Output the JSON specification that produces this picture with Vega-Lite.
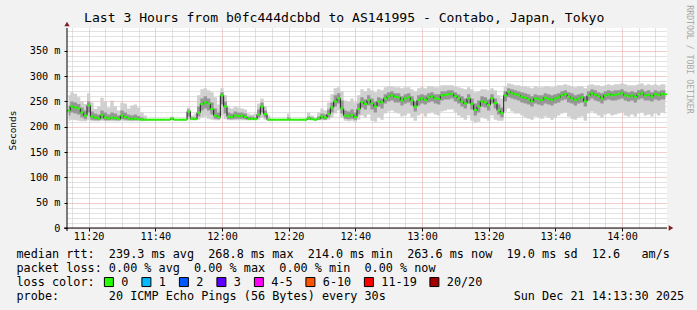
{
  "$schema": "https://vega.github.io/schema/vega-lite/v6.json",
  "width": 600,
  "height": 200,
  "autosize": {"type": "none"},
  "padding": {"left": 67, "top": 28, "right": 30, "bottom": 82},
  "background": "#f2f2f2",
  "config": {
    "font": "DejaVu Sans Mono",
    "view": {"fill": "#ffffff", "stroke": null}
  },
  "title": {
    "text": "Last 3 Hours from b0fc444dcbbd to AS141995 - Contabo, Japan, Tokyo",
    "font": "DejaVu Sans Mono",
    "fontSize": 13.1,
    "fontWeight": "normal",
    "color": "#000000",
    "anchor": "start",
    "frame": "group",
    "dx": 17,
    "offset": -30.5,
    "baseline": "alphabetic"
  },
  "data": {
    "values": [
      {"t":"2025-12-21T11:14:00Z","m":232,"a":212,"b":262,"c":222,"d":242},
      {"t":"2025-12-21T11:15:00Z","m":240,"a":214,"b":268,"c":228,"d":250},
      {"t":"2025-12-21T11:16:00Z","m":238,"a":213,"b":265,"c":226,"d":248},
      {"t":"2025-12-21T11:17:00Z","m":236,"a":212,"b":258,"c":224,"d":245},
      {"t":"2025-12-21T11:18:00Z","m":228,"a":211,"b":250,"c":218,"d":238},
      {"t":"2025-12-21T11:19:00Z","m":222,"a":211,"b":245,"c":215,"d":232},
      {"t":"2025-12-21T11:20:00Z","m":242,"a":213,"b":266,"c":228,"d":250},
      {"t":"2025-12-21T11:21:00Z","m":220,"a":211,"b":248,"c":214,"d":230},
      {"t":"2025-12-21T11:22:00Z","m":218,"a":211,"b":235,"c":213,"d":226},
      {"t":"2025-12-21T11:23:00Z","m":216,"a":211,"b":240,"c":213,"d":224},
      {"t":"2025-12-21T11:24:00Z","m":223,"a":212,"b":257,"c":215,"d":232},
      {"t":"2025-12-21T11:25:00Z","m":218,"a":211,"b":250,"c":213,"d":228},
      {"t":"2025-12-21T11:26:00Z","m":216,"a":211,"b":238,"c":213,"d":224},
      {"t":"2025-12-21T11:27:00Z","m":218,"a":211,"b":252,"c":214,"d":228},
      {"t":"2025-12-21T11:28:00Z","m":217,"a":211,"b":240,"c":213,"d":226},
      {"t":"2025-12-21T11:29:00Z","m":215,"a":211,"b":232,"c":213,"d":222},
      {"t":"2025-12-21T11:30:00Z","m":222,"a":212,"b":248,"c":215,"d":232},
      {"t":"2025-12-21T11:31:00Z","m":219,"a":211,"b":246,"c":214,"d":228},
      {"t":"2025-12-21T11:32:00Z","m":216,"a":211,"b":236,"c":213,"d":224},
      {"t":"2025-12-21T11:33:00Z","m":215,"a":211,"b":242,"c":213,"d":222},
      {"t":"2025-12-21T11:34:00Z","m":216,"a":211,"b":244,"c":213,"d":224},
      {"t":"2025-12-21T11:35:00Z","m":215,"a":211,"b":238,"c":213,"d":221},
      {"t":"2025-12-21T11:36:00Z","m":214,"a":211,"b":228,"c":213,"d":218},
      {"t":"2025-12-21T11:37:00Z","m":214,"a":212,"b":222,"c":213,"d":216},
      {"t":"2025-12-21T11:38:00Z","m":214,"a":213,"b":215,"c":213,"d":215},
      {"t":"2025-12-21T11:39:00Z","m":214,"a":213,"b":215,"c":213,"d":215},
      {"t":"2025-12-21T11:40:00Z","m":214,"a":213,"b":215,"c":213,"d":215},
      {"t":"2025-12-21T11:41:00Z","m":214,"a":213,"b":215,"c":213,"d":215},
      {"t":"2025-12-21T11:42:00Z","m":214,"a":213,"b":215,"c":213,"d":215},
      {"t":"2025-12-21T11:43:00Z","m":214,"a":213,"b":215,"c":213,"d":215},
      {"t":"2025-12-21T11:44:00Z","m":214,"a":213,"b":215,"c":213,"d":215},
      {"t":"2025-12-21T11:45:00Z","m":216,"a":213,"b":220,"c":214,"d":218},
      {"t":"2025-12-21T11:46:00Z","m":214,"a":213,"b":215,"c":213,"d":215},
      {"t":"2025-12-21T11:47:00Z","m":214,"a":213,"b":215,"c":213,"d":215},
      {"t":"2025-12-21T11:48:00Z","m":214,"a":213,"b":215,"c":213,"d":215},
      {"t":"2025-12-21T11:49:00Z","m":214,"a":213,"b":215,"c":213,"d":215},
      {"t":"2025-12-21T11:50:00Z","m":230,"a":214,"b":238,"c":220,"d":234},
      {"t":"2025-12-21T11:51:00Z","m":216,"a":213,"b":222,"c":214,"d":218},
      {"t":"2025-12-21T11:52:00Z","m":215,"a":213,"b":226,"c":214,"d":218},
      {"t":"2025-12-21T11:53:00Z","m":228,"a":214,"b":262,"c":220,"d":240},
      {"t":"2025-12-21T11:54:00Z","m":245,"a":218,"b":274,"c":232,"d":256},
      {"t":"2025-12-21T11:55:00Z","m":248,"a":220,"b":276,"c":236,"d":260},
      {"t":"2025-12-21T11:56:00Z","m":245,"a":216,"b":272,"c":232,"d":256},
      {"t":"2025-12-21T11:57:00Z","m":235,"a":214,"b":268,"c":224,"d":248},
      {"t":"2025-12-21T11:58:00Z","m":222,"a":213,"b":258,"c":216,"d":236},
      {"t":"2025-12-21T11:59:00Z","m":219,"a":213,"b":244,"c":215,"d":228},
      {"t":"2025-12-21T12:00:00Z","m":262,"a":222,"b":276,"c":244,"d":268},
      {"t":"2025-12-21T12:01:00Z","m":240,"a":215,"b":262,"c":226,"d":250},
      {"t":"2025-12-21T12:02:00Z","m":220,"a":213,"b":238,"c":215,"d":228},
      {"t":"2025-12-21T12:03:00Z","m":219,"a":213,"b":236,"c":215,"d":226},
      {"t":"2025-12-21T12:04:00Z","m":222,"a":213,"b":240,"c":216,"d":230},
      {"t":"2025-12-21T12:05:00Z","m":221,"a":213,"b":238,"c":216,"d":228},
      {"t":"2025-12-21T12:06:00Z","m":222,"a":213,"b":236,"c":216,"d":228},
      {"t":"2025-12-21T12:07:00Z","m":219,"a":213,"b":234,"c":215,"d":226},
      {"t":"2025-12-21T12:08:00Z","m":215,"a":213,"b":226,"c":214,"d":220},
      {"t":"2025-12-21T12:09:00Z","m":216,"a":213,"b":224,"c":214,"d":220},
      {"t":"2025-12-21T12:10:00Z","m":215,"a":213,"b":226,"c":214,"d":218},
      {"t":"2025-12-21T12:11:00Z","m":224,"a":214,"b":246,"c":218,"d":234},
      {"t":"2025-12-21T12:12:00Z","m":240,"a":218,"b":256,"c":228,"d":248},
      {"t":"2025-12-21T12:13:00Z","m":225,"a":214,"b":240,"c":218,"d":232},
      {"t":"2025-12-21T12:14:00Z","m":214,"a":213,"b":222,"c":213,"d":216},
      {"t":"2025-12-21T12:15:00Z","m":214,"a":213,"b":215,"c":213,"d":215},
      {"t":"2025-12-21T12:16:00Z","m":214,"a":213,"b":215,"c":213,"d":215},
      {"t":"2025-12-21T12:17:00Z","m":214,"a":213,"b":215,"c":213,"d":215},
      {"t":"2025-12-21T12:18:00Z","m":214,"a":213,"b":215,"c":213,"d":215},
      {"t":"2025-12-21T12:19:00Z","m":214,"a":213,"b":215,"c":213,"d":215},
      {"t":"2025-12-21T12:20:00Z","m":214,"a":213,"b":226,"c":213,"d":218},
      {"t":"2025-12-21T12:21:00Z","m":214,"a":213,"b":215,"c":213,"d":215},
      {"t":"2025-12-21T12:22:00Z","m":214,"a":213,"b":215,"c":213,"d":215},
      {"t":"2025-12-21T12:23:00Z","m":214,"a":213,"b":215,"c":213,"d":215},
      {"t":"2025-12-21T12:24:00Z","m":214,"a":213,"b":215,"c":213,"d":215},
      {"t":"2025-12-21T12:25:00Z","m":214,"a":213,"b":215,"c":213,"d":215},
      {"t":"2025-12-21T12:26:00Z","m":217,"a":213,"b":228,"c":214,"d":220},
      {"t":"2025-12-21T12:27:00Z","m":215,"a":213,"b":222,"c":214,"d":218},
      {"t":"2025-12-21T12:28:00Z","m":214,"a":213,"b":218,"c":213,"d":216},
      {"t":"2025-12-21T12:29:00Z","m":216,"a":213,"b":228,"c":214,"d":220},
      {"t":"2025-12-21T12:30:00Z","m":220,"a":213,"b":236,"c":215,"d":226},
      {"t":"2025-12-21T12:31:00Z","m":218,"a":213,"b":232,"c":214,"d":224},
      {"t":"2025-12-21T12:32:00Z","m":225,"a":214,"b":248,"c":218,"d":234},
      {"t":"2025-12-21T12:33:00Z","m":238,"a":218,"b":264,"c":228,"d":248},
      {"t":"2025-12-21T12:34:00Z","m":250,"a":226,"b":276,"c":240,"d":262},
      {"t":"2025-12-21T12:35:00Z","m":256,"a":232,"b":278,"c":246,"d":266},
      {"t":"2025-12-21T12:36:00Z","m":236,"a":218,"b":270,"c":226,"d":252},
      {"t":"2025-12-21T12:37:00Z","m":222,"a":212,"b":252,"c":216,"d":232},
      {"t":"2025-12-21T12:38:00Z","m":221,"a":211,"b":250,"c":215,"d":230},
      {"t":"2025-12-21T12:39:00Z","m":223,"a":212,"b":256,"c":216,"d":234},
      {"t":"2025-12-21T12:40:00Z","m":219,"a":210,"b":248,"c":214,"d":228},
      {"t":"2025-12-21T12:41:00Z","m":235,"a":214,"b":262,"c":224,"d":246},
      {"t":"2025-12-21T12:42:00Z","m":249,"a":222,"b":274,"c":238,"d":258},
      {"t":"2025-12-21T12:43:00Z","m":245,"a":218,"b":270,"c":234,"d":254},
      {"t":"2025-12-21T12:44:00Z","m":253,"a":224,"b":276,"c":242,"d":262},
      {"t":"2025-12-21T12:45:00Z","m":246,"a":212,"b":272,"c":234,"d":256},
      {"t":"2025-12-21T12:46:00Z","m":240,"a":210,"b":268,"c":228,"d":250},
      {"t":"2025-12-21T12:47:00Z","m":250,"a":218,"b":274,"c":240,"d":258},
      {"t":"2025-12-21T12:48:00Z","m":248,"a":214,"b":272,"c":236,"d":256},
      {"t":"2025-12-21T12:49:00Z","m":256,"a":226,"b":278,"c":246,"d":264},
      {"t":"2025-12-21T12:50:00Z","m":260,"a":230,"b":280,"c":250,"d":268},
      {"t":"2025-12-21T12:51:00Z","m":262,"a":232,"b":280,"c":252,"d":270},
      {"t":"2025-12-21T12:52:00Z","m":259,"a":228,"b":278,"c":248,"d":266},
      {"t":"2025-12-21T12:53:00Z","m":258,"a":226,"b":278,"c":248,"d":266},
      {"t":"2025-12-21T12:54:00Z","m":252,"a":220,"b":276,"c":242,"d":260},
      {"t":"2025-12-21T12:55:00Z","m":256,"a":222,"b":278,"c":246,"d":264},
      {"t":"2025-12-21T12:56:00Z","m":258,"a":226,"b":278,"c":248,"d":266},
      {"t":"2025-12-21T12:57:00Z","m":252,"a":218,"b":274,"c":242,"d":260},
      {"t":"2025-12-21T12:58:00Z","m":240,"a":212,"b":270,"c":230,"d":250},
      {"t":"2025-12-21T12:59:00Z","m":253,"a":222,"b":276,"c":242,"d":262},
      {"t":"2025-12-21T13:00:00Z","m":256,"a":226,"b":278,"c":246,"d":264},
      {"t":"2025-12-21T13:01:00Z","m":253,"a":220,"b":276,"c":244,"d":262},
      {"t":"2025-12-21T13:02:00Z","m":258,"a":226,"b":280,"c":248,"d":266},
      {"t":"2025-12-21T13:03:00Z","m":260,"a":228,"b":280,"c":250,"d":268},
      {"t":"2025-12-21T13:04:00Z","m":256,"a":224,"b":278,"c":246,"d":264},
      {"t":"2025-12-21T13:05:00Z","m":255,"a":222,"b":278,"c":244,"d":264},
      {"t":"2025-12-21T13:06:00Z","m":262,"a":230,"b":282,"c":252,"d":270},
      {"t":"2025-12-21T13:07:00Z","m":263,"a":232,"b":282,"c":254,"d":270},
      {"t":"2025-12-21T13:08:00Z","m":264,"a":234,"b":282,"c":254,"d":272},
      {"t":"2025-12-21T13:09:00Z","m":265,"a":234,"b":282,"c":256,"d":272},
      {"t":"2025-12-21T13:10:00Z","m":260,"a":228,"b":280,"c":250,"d":268},
      {"t":"2025-12-21T13:11:00Z","m":256,"a":222,"b":278,"c":246,"d":264},
      {"t":"2025-12-21T13:12:00Z","m":250,"a":218,"b":276,"c":240,"d":260},
      {"t":"2025-12-21T13:13:00Z","m":246,"a":214,"b":274,"c":236,"d":256},
      {"t":"2025-12-21T13:14:00Z","m":256,"a":222,"b":278,"c":246,"d":264},
      {"t":"2025-12-21T13:15:00Z","m":245,"a":212,"b":274,"c":234,"d":256},
      {"t":"2025-12-21T13:16:00Z","m":233,"a":208,"b":268,"c":222,"d":246},
      {"t":"2025-12-21T13:17:00Z","m":240,"a":210,"b":270,"c":228,"d":252},
      {"t":"2025-12-21T13:18:00Z","m":250,"a":218,"b":274,"c":240,"d":260},
      {"t":"2025-12-21T13:19:00Z","m":248,"a":216,"b":274,"c":238,"d":258},
      {"t":"2025-12-21T13:20:00Z","m":243,"a":212,"b":272,"c":232,"d":254},
      {"t":"2025-12-21T13:21:00Z","m":256,"a":222,"b":276,"c":246,"d":264},
      {"t":"2025-12-21T13:22:00Z","m":247,"a":214,"b":272,"c":236,"d":256},
      {"t":"2025-12-21T13:23:00Z","m":232,"a":212,"b":262,"c":224,"d":244},
      {"t":"2025-12-21T13:24:00Z","m":227,"a":212,"b":256,"c":218,"d":238},
      {"t":"2025-12-21T13:25:00Z","m":262,"a":230,"b":280,"c":250,"d":270},
      {"t":"2025-12-21T13:26:00Z","m":269,"a":236,"b":286,"c":258,"d":276},
      {"t":"2025-12-21T13:27:00Z","m":266,"a":230,"b":284,"c":256,"d":274},
      {"t":"2025-12-21T13:28:00Z","m":264,"a":226,"b":282,"c":254,"d":272},
      {"t":"2025-12-21T13:29:00Z","m":262,"a":226,"b":282,"c":252,"d":270},
      {"t":"2025-12-21T13:30:00Z","m":259,"a":222,"b":280,"c":248,"d":268},
      {"t":"2025-12-21T13:31:00Z","m":257,"a":218,"b":280,"c":246,"d":266},
      {"t":"2025-12-21T13:32:00Z","m":254,"a":216,"b":278,"c":244,"d":264},
      {"t":"2025-12-21T13:33:00Z","m":250,"a":214,"b":276,"c":240,"d":260},
      {"t":"2025-12-21T13:34:00Z","m":256,"a":220,"b":280,"c":246,"d":264},
      {"t":"2025-12-21T13:35:00Z","m":254,"a":218,"b":278,"c":244,"d":262},
      {"t":"2025-12-21T13:36:00Z","m":253,"a":216,"b":278,"c":242,"d":262},
      {"t":"2025-12-21T13:37:00Z","m":257,"a":220,"b":280,"c":246,"d":266},
      {"t":"2025-12-21T13:38:00Z","m":255,"a":218,"b":280,"c":244,"d":264},
      {"t":"2025-12-21T13:39:00Z","m":253,"a":214,"b":278,"c":242,"d":262},
      {"t":"2025-12-21T13:40:00Z","m":256,"a":218,"b":280,"c":246,"d":264},
      {"t":"2025-12-21T13:41:00Z","m":258,"a":222,"b":282,"c":248,"d":266},
      {"t":"2025-12-21T13:42:00Z","m":262,"a":226,"b":282,"c":252,"d":270},
      {"t":"2025-12-21T13:43:00Z","m":264,"a":228,"b":284,"c":254,"d":272},
      {"t":"2025-12-21T13:44:00Z","m":259,"a":220,"b":282,"c":248,"d":268},
      {"t":"2025-12-21T13:45:00Z","m":256,"a":216,"b":280,"c":246,"d":266},
      {"t":"2025-12-21T13:46:00Z","m":253,"a":214,"b":278,"c":242,"d":262},
      {"t":"2025-12-21T13:47:00Z","m":256,"a":218,"b":280,"c":246,"d":264},
      {"t":"2025-12-21T13:48:00Z","m":258,"a":220,"b":280,"c":248,"d":266},
      {"t":"2025-12-21T13:49:00Z","m":250,"a":212,"b":276,"c":240,"d":260},
      {"t":"2025-12-21T13:50:00Z","m":262,"a":226,"b":282,"c":252,"d":270},
      {"t":"2025-12-21T13:51:00Z","m":266,"a":230,"b":284,"c":256,"d":274},
      {"t":"2025-12-21T13:52:00Z","m":263,"a":226,"b":282,"c":252,"d":272},
      {"t":"2025-12-21T13:53:00Z","m":260,"a":222,"b":282,"c":250,"d":268},
      {"t":"2025-12-21T13:54:00Z","m":256,"a":218,"b":280,"c":246,"d":266},
      {"t":"2025-12-21T13:55:00Z","m":262,"a":224,"b":282,"c":252,"d":270},
      {"t":"2025-12-21T13:56:00Z","m":264,"a":226,"b":284,"c":254,"d":272},
      {"t":"2025-12-21T13:57:00Z","m":262,"a":222,"b":282,"c":252,"d":270},
      {"t":"2025-12-21T13:58:00Z","m":263,"a":224,"b":284,"c":252,"d":272},
      {"t":"2025-12-21T13:59:00Z","m":265,"a":226,"b":284,"c":254,"d":272},
      {"t":"2025-12-21T14:00:00Z","m":266,"a":228,"b":286,"c":256,"d":274},
      {"t":"2025-12-21T14:01:00Z","m":262,"a":222,"b":284,"c":252,"d":270},
      {"t":"2025-12-21T14:02:00Z","m":260,"a":220,"b":282,"c":250,"d":268},
      {"t":"2025-12-21T14:03:00Z","m":262,"a":224,"b":282,"c":252,"d":270},
      {"t":"2025-12-21T14:04:00Z","m":259,"a":220,"b":282,"c":248,"d":268},
      {"t":"2025-12-21T14:05:00Z","m":264,"a":226,"b":284,"c":254,"d":272},
      {"t":"2025-12-21T14:06:00Z","m":266,"a":228,"b":286,"c":256,"d":274},
      {"t":"2025-12-21T14:07:00Z","m":262,"a":222,"b":282,"c":252,"d":270},
      {"t":"2025-12-21T14:08:00Z","m":263,"a":224,"b":284,"c":252,"d":272},
      {"t":"2025-12-21T14:09:00Z","m":260,"a":220,"b":282,"c":250,"d":268},
      {"t":"2025-12-21T14:10:00Z","m":264,"a":226,"b":284,"c":254,"d":272},
      {"t":"2025-12-21T14:11:00Z","m":262,"a":222,"b":282,"c":252,"d":270},
      {"t":"2025-12-21T14:12:00Z","m":265,"a":228,"b":284,"c":254,"d":272},
      {"t":"2025-12-21T14:13:00Z","m":264,"a":226,"b":284,"c":254,"d":272}
    ]
  },
  "resolve": {"axis": {"y": "independent"}},
  "layer": [
    {
      "mark": {"type": "area", "interpolate": "step", "color": "#d0d0d0"},
      "encoding": {
        "x": {
          "field": "t", "type": "temporal",
          "scale": {"type": "utc", "nice": false, "domain": [{"year": 2025, "month": 12, "date": 21, "hours": 11, "minutes": 13, "seconds": 30, "utc": true}, {"year": 2025, "month": 12, "date": 21, "hours": 14, "minutes": 13, "seconds": 30, "utc": true}]},
          "axis": {
            "tickCount": 36,
            "labelExpr": "utcminutes(datum.value) % 20 === 0 ? utcFormat(datum.value, '%H:%M') : ''",
            "gridColor": {"condition": {"test": "utcminutes(datum.value) % 20 === 0", "value": "#e89c9c"}, "value": "#c4c4c4"},
            "gridDash": [1, 1],
            "gridWidth": 1,
            "domain": false,
            "tickSize": 3,
            "tickColor": "#000000",
            "tickOpacity": {"condition": {"test": "utcminutes(datum.value) % 20 === 0", "value": 1}, "value": 0},
            "labelFont": "DejaVu Sans Mono",
            "labelFontSize": 10.2,
            "labelColor": "#000000",
            "labelPadding": 0,
            "labelOverlap": false,
            "labelFlush": false,
            "title": [
              "median rtt:\u00a0\u00a0239.3 ms avg\u00a0\u00a0268.8 ms max\u00a0\u00a0214.0 ms min\u00a0\u00a0263.6 ms now\u00a0\u00a019.0 ms sd\u00a0\u00a012.6\u00a0\u00a0\u00a0am/s",
              "packet loss: 0.00 % avg\u00a0\u00a00.00 % max\u00a0\u00a00.00 % min\u00a0\u00a00.00 % now",
              "loss color:",
              "probe:\u00a0\u00a0\u00a0\u00a0\u00a0\u00a0\u00a020 ICMP Echo Pings (56 Bytes) every 30s\u00a0\u00a0\u00a0\u00a0\u00a0\u00a0\u00a0\u00a0\u00a0\u00a0\u00a0\u00a0\u00a0\u00a0\u00a0\u00a0\u00a0\u00a0Sun Dec 21 14:13:30 2025"
            ],
            "titleFont": "DejaVu Sans Mono",
            "titleFontSize": 11.8,
            "titleFontWeight": "normal",
            "titleColor": "#000000",
            "titleAlign": "left",
            "titleBaseline": "top",
            "titleLineHeight": 14,
            "titleX": -51,
            "titleY": 20
          }
        },
        "y": {
          "field": "a", "type": "quantitative",
          "scale": {"domain": [0, 395], "nice": false},
          "axis": {
            "values": [0, 10, 20, 30, 40, 50, 60, 70, 80, 90, 100, 110, 120, 130, 140, 150, 160, 170, 180, 190, 200, 210, 220, 230, 240, 250, 260, 270, 280, 290, 300, 310, 320, 330, 340, 350, 360, 370, 380, 390],
            "labelExpr": "datum.value % 50 === 0 ? (datum.value === 0 ? '0\u00a0\u00a0' : datum.value + ' m') : ''",
            "gridColor": {"condition": {"test": "datum.value % 50 === 0", "value": "#e89c9c"}, "value": "#c4c4c4"},
            "gridDash": [1, 1],
            "gridWidth": 1,
            "domain": false,
            "tickSize": 3,
            "tickColor": "#000000",
            "tickOpacity": {"condition": {"test": "datum.value % 50 === 0", "value": 1}, "value": 0},
            "labelFont": "DejaVu Sans Mono",
            "labelFontSize": 10.2,
            "labelColor": "#000000",
            "labelPadding": 4,
            "labelOverlap": false,
            "labelBound": false,
            "title": "Seconds",
            "titleFont": "DejaVu Sans Mono",
            "titleFontSize": 9.5,
            "titleFontWeight": "normal",
            "titleColor": "#000000",
            "titleAngle": -90,
            "titleAlign": "center",
            "titleBaseline": "middle",
            "titleX": -55,
            "titleY": 102
          }
        },
        "y2": {"field": "b"}
      }
    },
    {
      "mark": {"type": "area", "interpolate": "step", "color": "#969696"},
      "encoding": {
        "x": {"field": "t", "type": "temporal"},
        "y": {"field": "c", "type": "quantitative", "axis": null},
        "y2": {"field": "d"}
      }
    },
    {
      "mark": {"type": "line", "interpolate": "step", "color": "#1e1e1e", "strokeWidth": 1},
      "encoding": {
        "x": {"field": "t", "type": "temporal"},
        "y": {"field": "m", "type": "quantitative", "axis": null}
      }
    },
    {
      "mark": {"type": "tick", "orient": "horizontal", "size": 3.4, "thickness": 2, "opacity": 1},
      "encoding": {
        "x": {"field": "t", "type": "temporal"},
        "y": {"field": "m", "type": "quantitative", "axis": null},
        "color": {
          "datum": "0", "type": "nominal",
          "scale": {
            "domain": ["0", "1", "2", "3", "4-5", "6-10", "11-19", "20/20"],
            "range": ["#26ff00", "#00b8ff", "#0059ff", "#5e00ff", "#ff00ff", "#ff5500", "#ff0000", "#a10000"]
          },
          "legend": {
            "orient": "none",
            "legendX": 36,
            "legendY": 248,
            "direction": "horizontal",
            "title": null,
            "symbolType": "square",
            "symbolSize": 81,
            "symbolOpacity": 1,
            "labelFont": "DejaVu Sans Mono",
            "labelFontSize": 11.8,
            "labelColor": "#000000",
            "labelOffset": 6.5,
            "columnPadding": 10.5,
            "padding": 0,
            "encode": {"symbols": {"update": {"stroke": {"value": "#000000"}, "strokeWidth": {"value": 1}, "opacity": {"value": 1}}}}
          }
        }
      }
    },
    {
      "data": {"values": [{}]},
      "mark": {"type": "rule", "color": "#000000", "strokeWidth": 1},
      "encoding": {
        "x": {"datum": {"year": 2025, "month": 12, "date": 21, "hours": 11, "minutes": 13, "seconds": 30, "utc": true}, "type": "temporal"},
        "y": {"datum": 0, "type": "quantitative", "axis": null},
        "y2": {"datum": 395},
        "yOffset": {"value": 3},
        "y2Offset": {"value": -4}
      }
    },
    {
      "data": {"values": [{}]},
      "mark": {"type": "rule", "color": "#000000", "strokeWidth": 1},
      "encoding": {
        "x": {"datum": {"year": 2025, "month": 12, "date": 21, "hours": 11, "minutes": 13, "seconds": 30, "utc": true}, "type": "temporal"},
        "x2": {"datum": {"year": 2025, "month": 12, "date": 21, "hours": 14, "minutes": 13, "seconds": 30, "utc": true}},
        "y": {"datum": 0, "type": "quantitative", "axis": null},
        "xOffset": {"value": -3},
        "x2Offset": {"value": 2}
      }
    },
    {
      "data": {"values": [{}]},
      "mark": {"type": "point", "shape": "triangle-up", "size": 28, "filled": true, "color": "#7f1f1f", "opacity": 1, "yOffset": -4},
      "encoding": {
        "x": {"datum": {"year": 2025, "month": 12, "date": 21, "hours": 11, "minutes": 13, "seconds": 30, "utc": true}, "type": "temporal"},
        "y": {
          "datum": 395, "type": "quantitative",
          "axis": {
            "orient": "right",
            "title": "RRDTOOL / TOBI OETIKER",
            "labels": false, "ticks": false, "domain": false, "grid": false,
            "titleFont": "DejaVu Sans Mono",
            "titleFontSize": 8.2,
            "titleFontWeight": "normal",
            "titleColor": "#a8a8a8",
            "titleAngle": 90,
            "titleAlign": "center",
            "titleBaseline": "middle",
            "titleX": 21,
            "titleY": 31
          }
        }
      }
    },
    {
      "data": {"values": [{}]},
      "mark": {"type": "point", "shape": "triangle-right", "size": 28, "filled": true, "color": "#7f1f1f", "opacity": 1, "xOffset": 4},
      "encoding": {
        "x": {"datum": {"year": 2025, "month": 12, "date": 21, "hours": 14, "minutes": 13, "seconds": 30, "utc": true}, "type": "temporal"},
        "y": {"datum": 0, "type": "quantitative", "axis": null}
      }
    }
  ]
}
